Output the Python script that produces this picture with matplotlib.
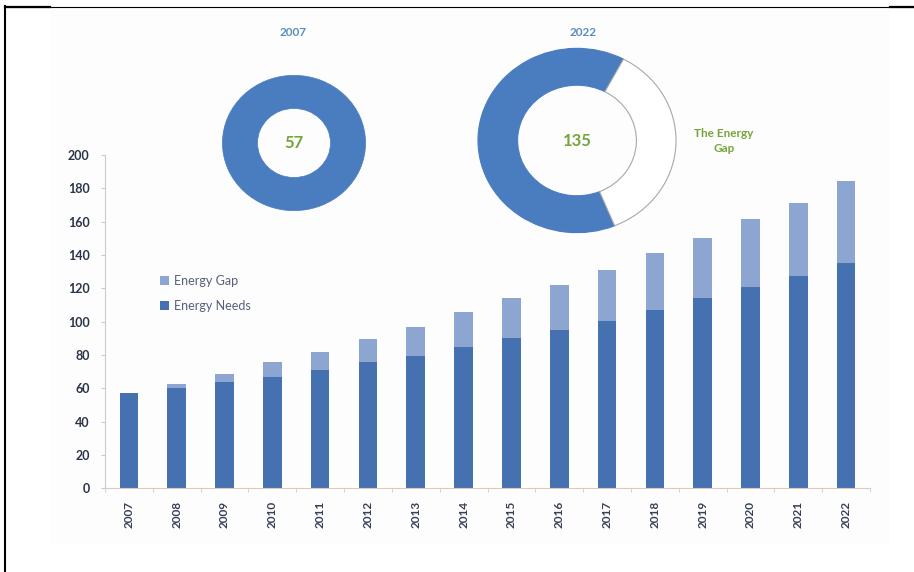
import matplotlib
matplotlib.use('Agg')
import matplotlib.pyplot as plt
import matplotlib.patches as mpatches
from matplotlib.lines import Line2D
from matplotlib.ticker import FixedLocator
import numpy as np

plt.rcParams['font.family'] = ['Lato', 'DejaVu Sans']

# --- data ---
years        = ['2007', '2008', '2009', '2010', '2011', '2012', '2013', '2014',
                '2015', '2016', '2017', '2018', '2019', '2020', '2021', '2022']
energy_needs = [57, 60, 63.5, 67, 71, 76, 79.5, 85, 90, 95, 100.5, 107, 114, 120.5, 127.5, 135]
energy_gap   = [0, 2.5, 5, 8.5, 11, 13.5, 17.5, 21, 24, 27, 30.5, 34, 36, 41, 43.5, 49.5]
yticks       = [0, 20, 40, 60, 80, 100, 120, 140, 160, 180, 200]

donut_2007 = [57]          # needs only
donut_2022 = [135, 76]     # needs, gap

# --- colours ---
NEEDS   = '#4571B0'
GAP     = '#8DA5D1'
RING    = '#4A7CC0'
GREEN   = '#76A53A'
TITLE_B = '#5A8CC0'
TXT     = '#2A3446'
AXIS    = '#CFCACA'

W, H = 914, 572
fig = plt.figure(figsize=(W / 100, H / 100), dpi=100)
fig.patch.set_facecolor('white')

# faint backdrop behind the graphic
fig.add_artist(mpatches.Rectangle((50 / W, 1 - 545 / H), 840 / W, 538 / H,
                                  transform=fig.transFigure, facecolor='#FDFDFD',
                                  edgecolor='none', zorder=0))

# --- stacked bars ---
ax = fig.add_axes([105 / W, 83.7 / H, 765 / W, 333.3 / H])
ax.set_facecolor('none')
x = np.arange(len(years))
ax.bar(x, energy_needs, width=0.39, color=NEEDS, label='Energy Needs', zorder=2)
ax.bar(x, energy_gap, width=0.39, bottom=energy_needs, color=GAP, label='Energy Gap', zorder=2)

ax.set_xlim(-0.5, len(years) - 0.5)
ax.set_ylim(0, 200)
ax.set_yticks(yticks)
ax.set_xticks(x)
ax.set_xticklabels(years, rotation=90, fontsize=8.5, fontweight='bold', color='#354055')
ax.xaxis.set_minor_locator(FixedLocator(np.arange(-0.5, len(years), 1.0)))
ax.tick_params(axis='x', which='major', length=0, pad=9)
ax.tick_params(axis='x', which='minor', length=3, color=AXIS, direction='out')
ax.tick_params(axis='y', length=3, color=AXIS, labelsize=9, labelcolor=TXT, pad=8)
for lbl in ax.get_yticklabels():
    lbl.set_fontweight('bold')

ax.spines['top'].set_visible(False)
ax.spines['right'].set_visible(False)
ax.spines['left'].set_color(AXIS)
ax.spines['bottom'].set_color('#DCCABE')

handles, labels = ax.get_legend_handles_labels()
ax.legend(handles[::-1], labels[::-1], loc='upper left', bbox_to_anchor=(0.072, 0.64),
          frameon=False, fontsize=9, labelcolor='#56607A', handlelength=0.7,
          handleheight=0.7, handletextpad=0.4, labelspacing=1.05, borderpad=0,
          borderaxespad=0)

# --- 2007 donut ---
d1 = fig.add_axes([(294 - 73) / W, (H - 143 - 69) / H, 146 / W, 138 / H])
d1.pie(donut_2007, colors=[RING], startangle=90, counterclock=True,
       wedgeprops=dict(width=0.49, edgecolor=RING, linewidth=0.5))
d1.set_aspect('auto')
d1.set_xlim(-1.02, 1.02)
d1.set_ylim(-1.02, 1.02)
d1.axis('off')
d1.text(0, 0, f'{donut_2007[0]}', ha='center', va='center', fontsize=12,
        fontweight='bold', color=GREEN)
fig.text(293 / W, 1 - 32 / H, '2007', ha='center', va='center', fontsize=8.5,
         fontweight='bold', color=TITLE_B)

# --- 2022 donut ---
d2 = fig.add_axes([(577 - 101) / W, (H - 140.5 - 94) / H, 202 / W, 188 / H])
d2.pie(donut_2022, colors=[RING, 'white'], startangle=62, counterclock=True,
       wedgeprops=dict(width=0.4, edgecolor='#A8A8A8', linewidth=0.8))
d2.patches[0].set_edgecolor(RING)
d2.set_aspect('auto')
d2.set_xlim(-1.02, 1.02)
d2.set_ylim(-1.02, 1.02)
d2.axis('off')
d2.text(0, 0, f'{donut_2022[0]}', ha='center', va='center', fontsize=12,
        fontweight='bold', color=GREEN)
fig.text(583 / W, 1 - 32 / H, '2022', ha='center', va='center', fontsize=8.5,
         fontweight='bold', color=TITLE_B)
fig.text(724 / W, 1 - 141 / H, 'The Energy\nGap', ha='center', va='center',
         fontsize=8.5, fontweight='bold', color=GREEN, linespacing=1.4)

# --- page frame lines ---
fig.add_artist(Line2D([5 / W, 5 / W], [0, 1 - 6 / H], transform=fig.transFigure,
                      color='black', linewidth=1.5))
fig.add_artist(Line2D([5 / W, 1], [1 - 6.5 / H, 1 - 6.5 / H], transform=fig.transFigure,
                      color='black', linewidth=0.8))
fig.add_artist(Line2D([5 / W, 50 / W], [1 - 6.5 / H, 1 - 6.5 / H], transform=fig.transFigure,
                      color='black', linewidth=1.6))
fig.add_artist(Line2D([890 / W, 1], [1 - 6.5 / H, 1 - 6.5 / H], transform=fig.transFigure,
                      color='black', linewidth=1.6))

fig.savefig('out.png', dpi=100, facecolor='white')
